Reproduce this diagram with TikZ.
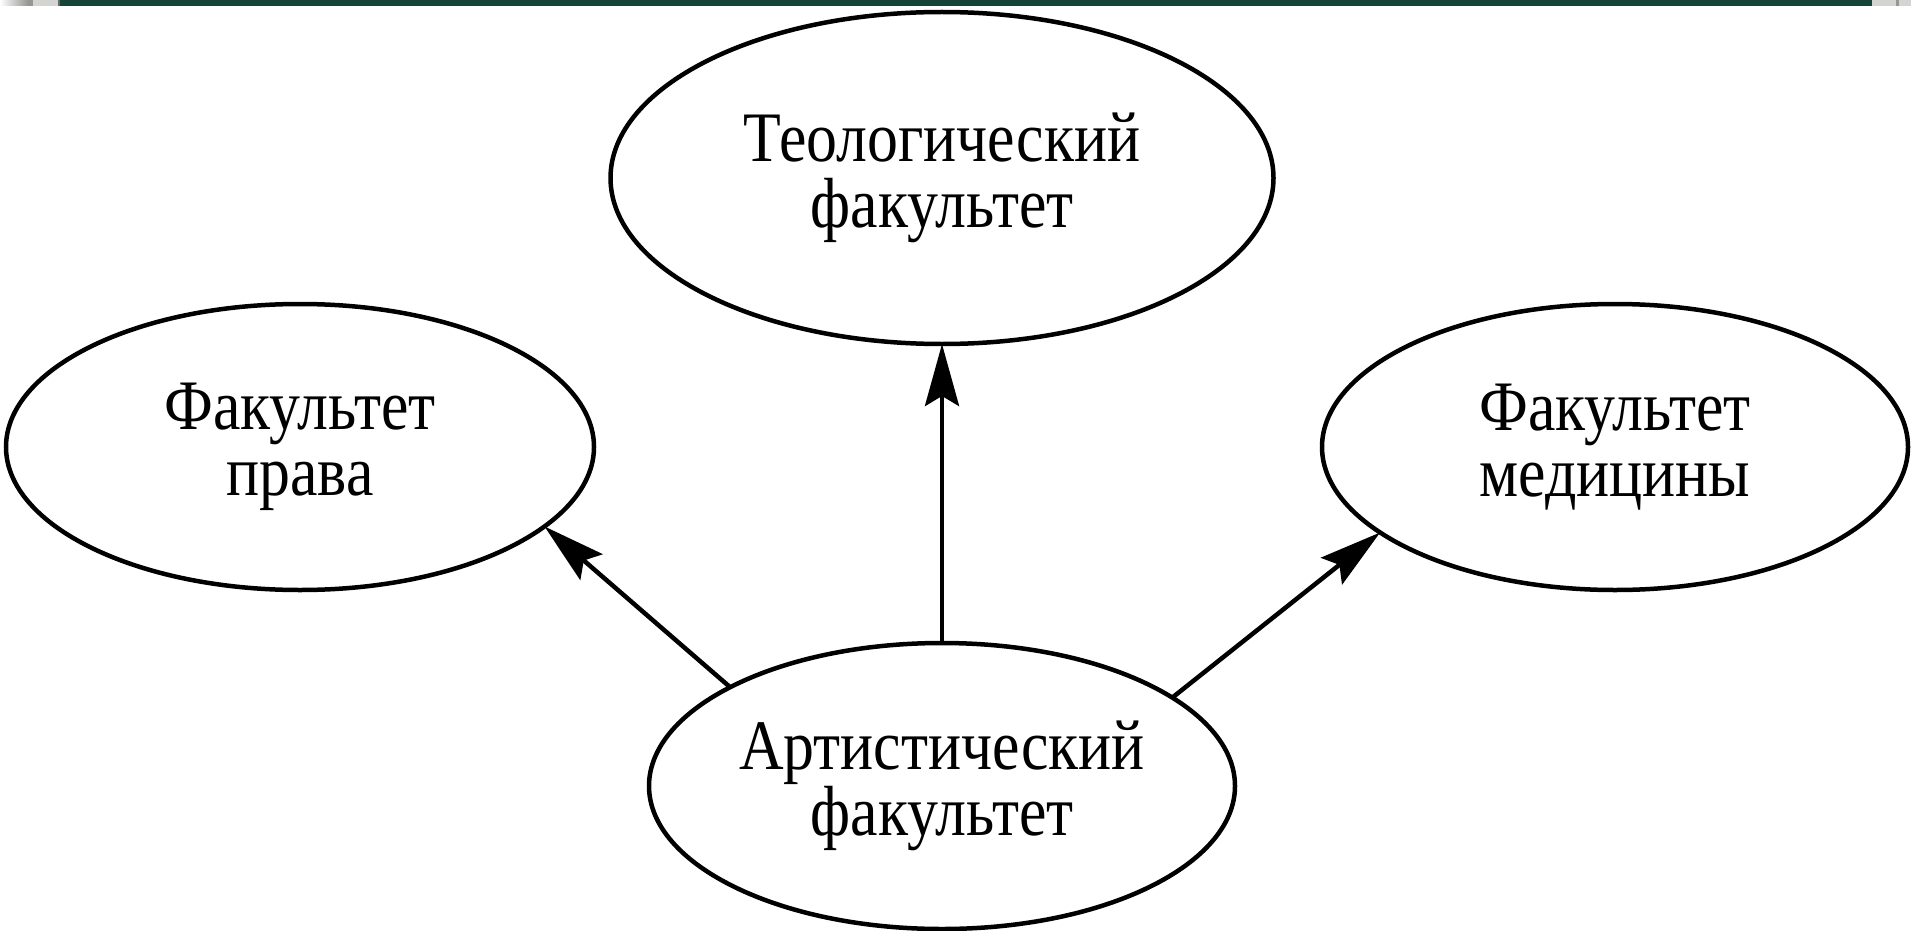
\documentclass[tikz,border=0pt]{standalone}
\usepackage{fontspec}
\setmainfont[FakeStretch=0.87]{Liberation Serif}
\usetikzlibrary{shapes.geometric,arrows.meta}
\definecolor{bargreen}{RGB}{22,66,55}
\definecolor{barlight}{RGB}{212,212,210}
\definecolor{bardark}{RGB}{150,150,148}
\begin{document}
\begin{tikzpicture}[x=1pt,y=-1pt,
  oval/.style={ellipse,draw=black,line width=4.5pt,inner sep=0pt,outer sep=0pt,
    align=center,font=\fontsize{71}{66}\selectfont},
  conn/.style={line width=4.5pt,-{Stealth[length=62pt,width=34pt,inset=10pt]}}]
\useasboundingbox (0,0) rectangle (1911,931);
\fill[white] (0,0) rectangle (1911,931);
% top bar
\fill[bargreen] (60,0) rectangle (1872,6);
\shade[left color=white,right color=bardark] (0,0) rectangle (28,6);
\fill[bardark] (28,0) rectangle (33,6);
\fill[barlight] (33,0) rectangle (58,6);
\fill[bardark!70!black] (58,0) rectangle (60,6);
\fill[barlight] (1872,0) rectangle (1911,6);
\fill[bardark] (1896,0) rectangle (1899,6);
% nodes
\node[oval,minimum width=663pt,minimum height=332pt] (teo) at (942,178) {Теологический\\факультет};
\node[oval,minimum width=588pt,minimum height=286pt] (law) at (300,447) {Факультет\\права};
\node[oval,minimum width=586pt,minimum height=286pt] (med) at (1615,447) {Факультет\\медицины};
\node[oval,minimum width=586pt,minimum height=286pt] (art) at (942,786) {Артистический\\факультет};
% connectors
\draw[conn] (art.north) -- (teo.south);
\draw[conn] (art.155.9) -- (law.-18.1);
\draw[conn] (art.21.2) -- (med.-160.7);
\end{tikzpicture}
\end{document}
